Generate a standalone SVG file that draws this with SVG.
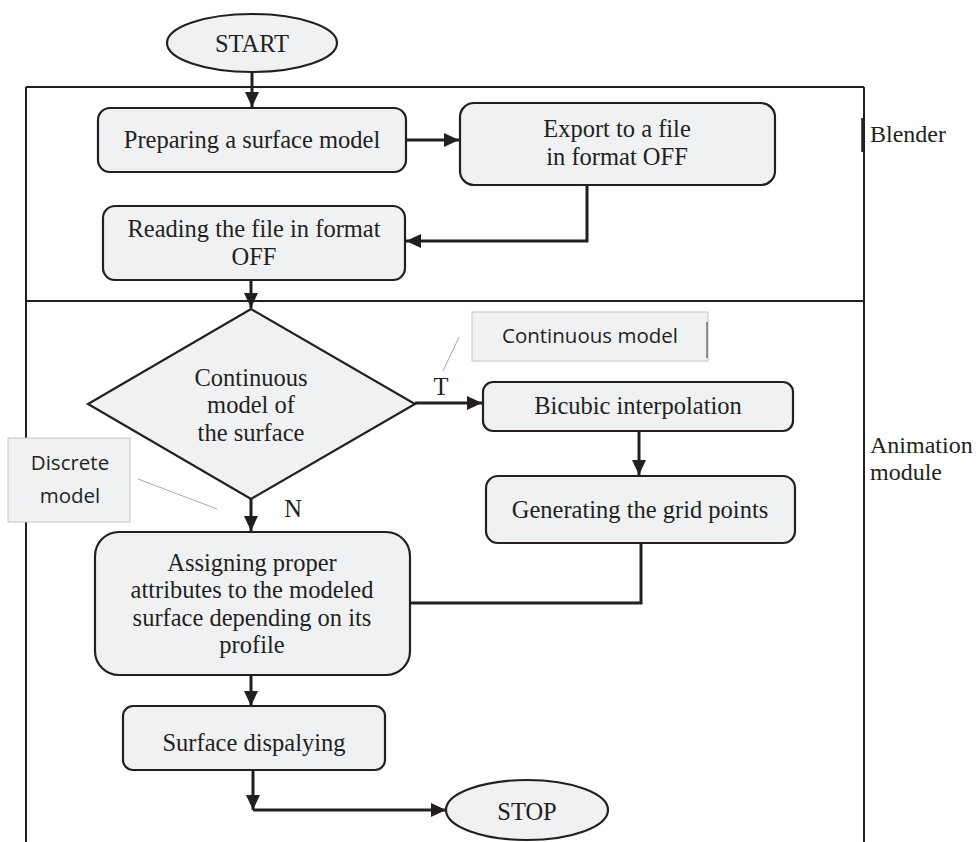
<svg xmlns="http://www.w3.org/2000/svg" width="978" height="842" viewBox="0 0 978 842">
  <style>
    .box { fill: #f0f1f3; stroke: #231f20; stroke-width: 2.2; }
    .term { fill: #f0f1f3; stroke: #231f20; stroke-width: 2.2; }
    .t { font-family: "Liberation Serif", "Times New Roman", serif; font-size: 24.5px; fill: #231f20; text-anchor: middle; }
    .side { font-family: "Liberation Serif", "Times New Roman", serif; font-size: 24px; fill: #231f20; }
    .frame { fill: none; stroke: #231f20; stroke-width: 2; }
    .wire { fill: none; stroke: #231f20; stroke-width: 3; }
    .note { fill: #f0f1f3; stroke: #c4c4c4; stroke-width: 1; }
    .nt { font-family: "Open Sans", "Liberation Sans", sans-serif; font-size: 20.5px; fill: #231f20; text-anchor: middle; }
    .lead { stroke: #a8a8a8; stroke-width: 1; fill: none; }
  </style>
  <defs>
    <marker id="arrow" markerUnits="userSpaceOnUse" markerWidth="16" markerHeight="16" viewBox="0 0 16 16" refX="15" refY="8" orient="auto">
      <path d="M0,1 L15,8 L0,15 Z" fill="#231f20"/>
    </marker>
  </defs>

  <!-- swimlane frame -->
  <g id="frame">
    <line class="frame" x1="26" y1="87" x2="26" y2="842"/>
    <line class="frame" x1="864" y1="87" x2="864" y2="842"/>
    <line class="frame" x1="26" y1="87" x2="864" y2="87"/>
    <line class="frame" x1="26" y1="301" x2="864" y2="301"/>
    <line x1="863" y1="118" x2="863" y2="152" stroke="#231f20" stroke-width="3.5"/>
    <text class="side" x="870" y="142">Blender</text>
    <text class="side" x="870" y="453">Animation</text>
    <text class="side" x="870" y="480">module</text>
  </g>

  <!-- connectors -->
  <g id="connectors">
    <line class="wire" x1="252" y1="72" x2="252" y2="107" marker-end="url(#arrow)"/>
    <line class="wire" x1="406" y1="140" x2="459" y2="140" marker-end="url(#arrow)"/>
    <polyline class="wire" points="587,185 587,241 406,241" marker-end="url(#arrow)"/>
    <line class="wire" x1="251" y1="280" x2="251" y2="308" marker-end="url(#arrow)"/>
    <line class="wire" x1="415" y1="403" x2="482" y2="403" marker-end="url(#arrow)"/>
    <line class="wire" x1="639" y1="431" x2="639" y2="475" marker-end="url(#arrow)"/>
    <polyline class="wire" points="641,543 641,603 389,603" marker-end="url(#arrow)"/>
    <line class="wire" x1="251" y1="499" x2="251" y2="531" marker-end="url(#arrow)"/>
    <line class="wire" x1="251" y1="675" x2="251" y2="706" marker-end="url(#arrow)"/>
    <line class="wire" x1="253" y1="770" x2="253" y2="810" marker-end="url(#arrow)"/>
    <line class="wire" x1="253" y1="810" x2="446" y2="810" marker-end="url(#arrow)"/>
    <text class="t" x="441" y="395">T</text>
    <text class="t" x="293" y="517">N</text>
  </g>

  <g id="start">
    <ellipse class="term" cx="252" cy="43" rx="85" ry="29"/>
    <text class="t" x="252" y="52">START</text>
  </g>

  <g id="prepare">
    <rect class="box" x="98" y="108" width="308" height="64" rx="12"/>
    <text class="t" x="252" y="148">Preparing a surface model</text>
  </g>

  <g id="export">
    <rect class="box" x="460" y="103" width="315" height="82" rx="14"/>
    <text class="t" x="617" y="137">Export to a file</text>
    <text class="t" x="617" y="165">in format OFF</text>
  </g>

  <g id="read">
    <rect class="box" x="103" y="206" width="302" height="74" rx="12"/>
    <text class="t" x="254" y="237">Reading the file in format</text>
    <text class="t" x="254" y="265">OFF</text>
  </g>

  <g id="decision">
    <polygon class="box" points="251,309 415,404 251,499 88,404"/>
    <text class="t" x="251" y="386">Continuous</text>
    <text class="t" x="251" y="413">model of</text>
    <text class="t" x="251" y="441">the surface</text>
  </g>

  <g id="bicubic">
    <rect class="box" x="483" y="382" width="310" height="49" rx="10"/>
    <text class="t" x="638" y="414">Bicubic interpolation</text>
  </g>

  <g id="grid">
    <rect class="box" x="486" y="476" width="309" height="67" rx="12"/>
    <text class="t" x="640" y="518">Generating the grid points</text>
  </g>

  <g id="assign">
    <rect class="box" x="95" y="532" width="315" height="143" rx="24"/>
    <text class="t" x="252" y="571">Assigning proper</text>
    <text class="t" x="252" y="598">attributes to the modeled</text>
    <text class="t" x="252" y="626">surface depending on its</text>
    <text class="t" x="252" y="653">profile</text>
  </g>

  <g id="display">
    <rect class="box" x="123" y="706" width="262" height="64" rx="10"/>
    <text class="t" x="254" y="751">Surface dispalying</text>
  </g>

  <g id="stop">
    <ellipse class="term" cx="527" cy="810" rx="81" ry="30"/>
    <text class="t" x="527" y="820">STOP</text>
  </g>

  <g id="note-continuous">
    <rect class="note" x="472" y="312" width="236" height="49"/>
    <line x1="707" y1="322" x2="707" y2="358" stroke="#555" stroke-width="1.2"/>
    <text class="nt" x="590" y="343">Continuous model</text>
    <line class="lead" x1="459" y1="337" x2="443" y2="371"/>
  </g>

  <g id="note-discrete">
    <rect class="note" x="8" y="438" width="122" height="84"/>
    <text class="nt" x="70" y="470">Discrete</text>
    <text class="nt" x="70" y="503">model</text>
    <line class="lead" x1="138" y1="479" x2="217" y2="509"/>
  </g>
</svg>
